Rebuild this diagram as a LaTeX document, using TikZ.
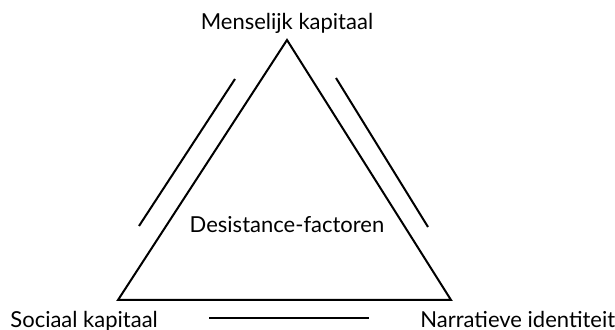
\documentclass[tikz,border=0pt]{standalone}
\usepackage{fontspec}
\setmainfont{Lato}
\begin{document}
\begin{tikzpicture}[
    x=0.5pt, y=-0.5pt,
    every node/.style={font=\fontsize{11}{13}\selectfont, inner sep=0pt},
    zijde/.style={draw, line width=1pt, line join=miter}, % zijden van de driehoek
    streep/.style={draw, line width=1pt}                  % losse strepen
]
\useasboundingbox (0,0) rectangle (615,330);
% Hoekpunten
\coordinate (top) at (287,40);
\coordinate (links) at (118,300);
\coordinate (rechts) at (451,300);
\draw[zijde] (top) -- (links) -- (rechts) -- cycle;
% Teksten
\node[anchor=base] (mens) at (287,30) {Menselijk kapitaal};
\node[anchor=base west] (sociaal) at (10,328) {Sociaal kapitaal};
\node[anchor=base west] (narratief) at (420,328) {Narratieve identiteit};
\node[anchor=base] (factoren) at (287,233) {Desistance-factoren};
% Strepen naast de zijden
\coordinate (lb) at (235,79);
\coordinate (lo) at (139,226);
\coordinate (rb) at (336,78);
\coordinate (ro) at (428,227);
\coordinate (ol) at (209,318);
\coordinate (or) at (369,318);
\draw[streep] (lb) -- (lo);
\draw[streep] (rb) -- (ro);
\draw[streep] (ol) -- (or);
\end{tikzpicture}
\end{document}
